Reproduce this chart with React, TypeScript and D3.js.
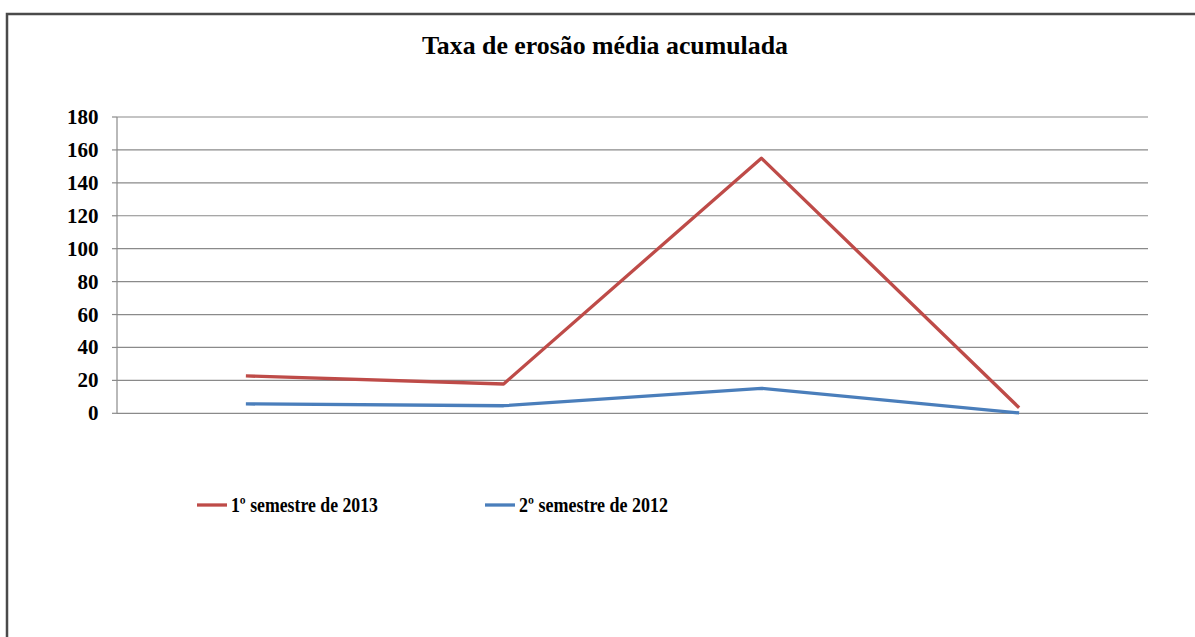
import React from "react";
import * as d3 from "d3";

const categories = ["1", "2", "3", "4"];
const serie2013 = [22.7, 17.8, 155, 3.4];
const serie2012 = [5.7, 4.6, 15.2, 0.2];
const yTicks = [0, 20, 40, 60, 80, 100, 120, 140, 160, 180];
const title = "Taxa de erosão média acumulada";
const seriesNames = ["1º semestre de 2013", "2º semestre de 2012"];
const seriesColors = ["#BE4B48", "#4A7EBB"];

export default function App() {
  const W = 1195, H = 637;
  const left = 117, right = 1148, top = 117, bottom = 413.3;
  const x = d3.scaleBand().domain(categories).range([left, right]);
  const y = d3.scaleLinear().domain([0, 180]).range([bottom, top]);
  const line = d3.line<number>()
    .x((_, i) => (x(categories[i]) as number) + x.bandwidth() / 2)
    .y((d) => y(d));
  const series = [serie2013, serie2012];
  const font = "'Liberation Serif', 'Times New Roman', serif";
  const legendX = [197, 485];
  const legendLen = [147, 149];
  return (
    <svg width={W} height={H} style={{ position: "absolute", left: 0, top: 0, background: "#fff" }}>
      <rect x={0} y={0} width={W} height={H} fill="#fff" />
      <path d={`M7,${H} L7,14 L${W},14`} fill="none" stroke="#4a4a4a" strokeWidth={2.5} />
      <text x={422} y={53.5} textLength={366} lengthAdjust="spacingAndGlyphs" fontFamily={font} fontWeight="bold" fontSize={25.5} fill="#000">{title}</text>
      {yTicks.map((t) => (
        <g key={t}>
          <line x1={left} x2={right} y1={y(t)} y2={y(t)} stroke="#8a8a8a" strokeWidth={1.2} />
          <line x1={112} x2={left} y1={y(t)} y2={y(t)} stroke="#8a8a8a" strokeWidth={1.2} />
          <text x={98.5} y={y(t) + 7} textAnchor="end" fontFamily={font} fontWeight="bold" fontSize={21} fill="#000">{t}</text>
        </g>
      ))}
      <line x1={left} x2={left} y1={top} y2={bottom} stroke="#8a8a8a" strokeWidth={1.2} />
      {series.map((s, i) => (
        <path key={i} d={line(s) as string} fill="none" stroke={seriesColors[i]} strokeWidth={3.3} strokeLinejoin="round" />
      ))}
      {seriesNames.map((n, i) => (
        <g key={n}>
          <line x1={legendX[i]} x2={legendX[i] + 30} y1={505} y2={505} stroke={seriesColors[i]} strokeWidth={3.3} />
          <text x={legendX[i] + 34} y={511.5} textLength={legendLen[i]} lengthAdjust="spacingAndGlyphs" fontFamily={font} fontWeight="bold" fontSize={21} fill="#000">{n}</text>
        </g>
      ))}
    </svg>
  );
}
